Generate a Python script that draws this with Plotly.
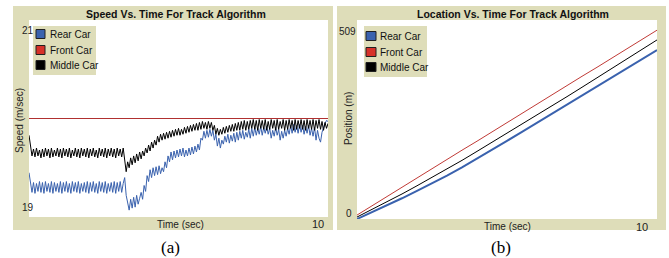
import plotly.graph_objects as go

# ---------------- data ----------------
series_names = ["Rear Car", "Front Car", "Middle Car"]

speed_dt = 0.05  # seconds between samples
rear_speed = [
    19.45, 19.33, 19.25, 19.35, 19.24, 19.34, 19.26, 19.36, 19.25, 19.35,
    19.24, 19.36, 19.26, 19.34, 19.25, 19.36, 19.24, 19.35, 19.26, 19.34,
    19.25, 19.36, 19.24, 19.35, 19.26, 19.36, 19.25, 19.34, 19.24, 19.36,
    19.26, 19.35, 19.25, 19.36, 19.24, 19.34, 19.26, 19.35, 19.25, 19.36,
    19.24, 19.35, 19.26, 19.36, 19.25, 19.34, 19.24, 19.36, 19.26, 19.35,
    19.25, 19.36, 19.24, 19.34, 19.26, 19.35, 19.25, 19.36, 19.24, 19.35,
    19.26, 19.36, 19.25, 19.34, 19.40, 19.22, 19.12, 19.07, 19.18, 19.09,
    19.20, 19.10, 19.22, 19.13, 19.19, 19.25, 19.18, 19.32, 19.26, 19.42,
    19.36, 19.48, 19.40, 19.50, 19.42, 19.51, 19.43, 19.52, 19.44, 19.50,
    19.46, 19.56, 19.50, 19.62, 19.56, 19.66, 19.58, 19.67, 19.60, 19.68,
    19.61, 19.69, 19.62, 19.70, 19.61, 19.68, 19.62, 19.70, 19.63, 19.71,
    19.64, 19.72, 19.66, 19.74, 19.68, 19.80, 19.78, 19.87, 19.80, 19.88,
    19.81, 19.89, 19.82, 19.88, 19.78, 19.84, 19.72, 19.80, 19.70, 19.78,
    19.74, 19.82, 19.76, 19.84, 19.75, 19.83, 19.77, 19.85, 19.76, 19.86,
    19.78, 19.87, 19.80, 19.88, 19.79, 19.86, 19.81, 19.89, 19.80, 19.90,
    19.82, 19.91, 19.83, 19.90, 19.84, 19.92, 19.83, 19.91, 19.85, 19.92,
    19.84, 19.90, 19.80, 19.88, 19.82, 19.91, 19.83, 19.89, 19.78, 19.87,
    19.80, 19.88, 19.82, 19.90, 19.84, 19.93, 19.85, 19.94, 19.86, 19.93,
    19.85, 19.94, 19.86, 19.93, 19.84, 19.92, 19.85, 19.93, 19.83, 19.90,
    19.82, 19.91, 19.78, 19.88, 19.80, 19.76, 19.86, 19.92, 19.95, 19.98,
    19.97,
]
middle_speed = [
    19.83, 19.70, 19.62, 19.69, 19.61, 19.70, 19.62, 19.68, 19.60, 19.69,
    19.61, 19.70, 19.62, 19.69, 19.60, 19.70, 19.61, 19.68, 19.62, 19.70,
    19.61, 19.69, 19.60, 19.70, 19.62, 19.69, 19.61, 19.70, 19.60, 19.68,
    19.62, 19.70, 19.61, 19.69, 19.60, 19.70, 19.62, 19.69, 19.61, 19.70,
    19.60, 19.69, 19.62, 19.70, 19.61, 19.68, 19.60, 19.70, 19.62, 19.69,
    19.61, 19.70, 19.60, 19.69, 19.62, 19.70, 19.61, 19.69, 19.60, 19.70,
    19.62, 19.69, 19.61, 19.70, 19.55, 19.46, 19.56, 19.50, 19.60, 19.53,
    19.62, 19.55, 19.64, 19.57, 19.66, 19.59, 19.67, 19.62, 19.70, 19.65,
    19.73, 19.67, 19.76, 19.70, 19.78, 19.73, 19.82, 19.76, 19.84, 19.78,
    19.85, 19.79, 19.86, 19.80, 19.87, 19.81, 19.88, 19.82, 19.89, 19.83,
    19.90, 19.83, 19.89, 19.84, 19.91, 19.85, 19.92, 19.86, 19.93, 19.87,
    19.94, 19.88, 19.95, 19.88, 19.96, 19.89, 19.97, 19.90, 19.96, 19.89,
    19.97, 19.90, 19.96, 19.88, 19.93, 19.84, 19.90, 19.83, 19.89, 19.84,
    19.91, 19.85, 19.92, 19.86, 19.93, 19.87, 19.94, 19.87, 19.95, 19.88,
    19.96, 19.88, 19.97, 19.89, 19.98, 19.88, 19.97, 19.89, 19.98, 19.90,
    19.99, 19.89, 19.98, 19.88, 19.99, 19.90, 19.98, 19.89, 19.99, 19.88,
    19.97, 19.89, 19.99, 19.90, 19.98, 19.88, 19.99, 19.89, 19.97, 19.90,
    19.99, 19.88, 19.98, 19.89, 19.99, 19.90, 19.98, 19.88, 19.99, 19.89,
    19.98, 19.90, 19.99, 19.89, 19.98, 19.88, 19.99, 19.90, 19.98, 19.89,
    19.99, 19.88, 19.98, 19.90, 19.99, 19.89, 19.97, 19.88, 19.96, 19.90,
    19.95,
]
front_speed_time = [0, 10]
front_speed = [20.0, 20.0]

pos_time = [0, 0.5, 1, 1.5, 2, 2.5, 3, 3.5, 4, 4.5, 5,
            5.5, 6, 6.5, 7, 7.5, 8, 8.5, 9, 9.5, 10]
rear_pos = [0, 17, 35, 53, 72, 91, 111, 132, 154, 177, 200,
            223, 246, 269, 292, 315, 338, 362, 385, 408, 432]
front_pos = [10, 34, 57, 81, 105, 128, 152, 176, 199, 223, 247,
             270, 294, 317, 341, 365, 388, 412, 436, 459, 483]
middle_pos = [5, 24, 44, 64, 85, 106, 128, 150, 173, 196, 219,
              242, 265, 289, 313, 337, 361, 385, 409, 433, 458]

speed_range = [19, 21]
pos_range = [0, 509]
time_range = [0, 10]
speed_tick_labels = ["19", "21"]
pos_tick_labels = ["0", "509"]
time_tick_label = "10"

titles = ["Speed Vs. Time For Track Algorithm", "Location Vs. Time For Track Algorithm"]
y_titles = ["Speed (m/sec)", "Position (m)"]
x_title = "Time (sec)"
captions = ["(a)", "(b)"]

# ---------------- layout helpers ----------------
W, H = 669, 258
BEIGE = "#DEDDB9"
FONT = "Liberation Sans"
BLUE = "#3A62AE"


def px(x):
    return x / W


def py(y):
    return 1 - y / H


fig = go.Figure()

# Speed panel
fig.add_trace(go.Scatter(x=front_speed_time, y=front_speed, mode="lines",
                         line=dict(color="#B03030", width=1), xaxis="x", yaxis="y",
                         showlegend=False, name=series_names[1]))
fig.add_trace(go.Scatter(y=rear_speed, x0=0, dx=speed_dt, mode="lines",
                         line=dict(color=BLUE, width=1), xaxis="x", yaxis="y",
                         showlegend=False, name=series_names[0]))
fig.add_trace(go.Scatter(y=middle_speed, x0=0, dx=speed_dt, mode="lines",
                         line=dict(color="#000000", width=1), xaxis="x", yaxis="y",
                         showlegend=False, name=series_names[2]))

# Position panel
fig.add_trace(go.Scatter(x=pos_time, y=rear_pos, mode="lines",
                         line=dict(color=BLUE, width=2), xaxis="x2", yaxis="y2",
                         showlegend=False, name=series_names[0]))
fig.add_trace(go.Scatter(x=pos_time, y=middle_pos, mode="lines",
                         line=dict(color="#000000", width=1), xaxis="x2", yaxis="y2",
                         showlegend=False, name=series_names[2]))
fig.add_trace(go.Scatter(x=pos_time, y=front_pos, mode="lines",
                         line=dict(color="#C03A36", width=1), xaxis="x2", yaxis="y2",
                         showlegend=False, name=series_names[1]))

axis_common = dict(showgrid=False, zeroline=False, showticklabels=False,
                   ticks="", showline=False, fixedrange=True)

fig.update_layout(
    width=W, height=H,
    margin=dict(l=0, r=0, t=0, b=0),
    paper_bgcolor="white",
    plot_bgcolor="white",
    showlegend=False,
    xaxis=dict(domain=[px(29), px(328)], range=time_range, anchor="y", **axis_common),
    yaxis=dict(domain=[py(217), py(20)], range=speed_range, anchor="x", **axis_common),
    xaxis2=dict(domain=[px(357), px(657)], range=time_range, anchor="y2", **axis_common),
    yaxis2=dict(domain=[py(219), py(20)], range=pos_range, anchor="x2", **axis_common),
)

shapes = []
annotations = []

# Beige panels
for (x0, x1) in [(13, 333), (337, 666)]:
    shapes.append(dict(type="rect", xref="paper", yref="paper", layer="below",
                       x0=px(x0), x1=px(x1), y0=py(230), y1=py(6),
                       fillcolor=BEIGE, line=dict(width=0)))
# White plotting areas
for ax in ["x", "x2"]:
    ya = "y" if ax == "x" else "y2"
    shapes.append(dict(type="rect", xref="%s domain" % ax, yref="%s domain" % ya, layer="below",
                       x0=0, x1=1, y0=0, y1=1, fillcolor="white", line=dict(width=0)))

# Titles
for title, cx in zip(titles, [176, 513]):
    annotations.append(dict(text="<b>%s</b>" % title, x=px(cx), y=py(14), xref="paper",
                            yref="paper", showarrow=False, xanchor="center", yanchor="middle",
                            font=dict(family=FONT, size=10.5, color="#111111")))

# Y axis titles
for yt, cx, cy in zip(y_titles, [20, 349], [121, 119]):
    annotations.append(dict(text=yt, x=px(cx), y=py(cy), xref="paper", yref="paper",
                            showarrow=False, textangle=-90, xanchor="center", yanchor="middle",
                            font=dict(family=FONT, size=10, color="#222222")))

# X axis titles
for cx, cy in [(180, 224), (507, 226)]:
    annotations.append(dict(text=x_title, x=px(cx), y=py(cy), xref="paper", yref="paper",
                            showarrow=False, xanchor="center", yanchor="middle",
                            font=dict(family=FONT, size=10, color="#222222")))

# Tick labels (at the axis extremes)
annotations.append(dict(text=speed_tick_labels[1], x=px(20), xref="paper", y=speed_range[1],
                        yref="y", yanchor="top", yshift=-3, showarrow=False,
                        font=dict(family=FONT, size=10, color="#222222")))
annotations.append(dict(text=speed_tick_labels[0], x=px(20), xref="paper", y=speed_range[0],
                        yref="y", yanchor="bottom", yshift=2, showarrow=False,
                        font=dict(family=FONT, size=10, color="#222222")))
annotations.append(dict(text=pos_tick_labels[1], x=px(347), xref="paper", y=pos_range[1],
                        yref="y2", yanchor="top", yshift=-4, showarrow=False,
                        font=dict(family=FONT, size=10, color="#222222")))
annotations.append(dict(text=pos_tick_labels[0], x=px(349), xref="paper", y=pos_range[0],
                        yref="y2", yanchor="bottom", yshift=-2, showarrow=False,
                        font=dict(family=FONT, size=10, color="#222222")))
annotations.append(dict(text=time_tick_label, x=time_range[1], xref="x", xanchor="right",
                        xshift=-2, y=py(224), yref="paper", yanchor="middle", showarrow=False,
                        font=dict(family=FONT, size=11, color="#222222")))
annotations.append(dict(text=time_tick_label, x=time_range[1], xref="x2", xanchor="right",
                        xshift=-7, y=py(227), yref="paper", yanchor="middle", showarrow=False,
                        font=dict(family=FONT, size=11, color="#222222")))

# Manual legends (NetLogo style)
legend_boxes = [dict(x0=33, x1=96, y0=26, y1=75, sx0=36, sx1=45, tx=48, rows=[34, 50, 65]),
                dict(x0=364, x1=427, y0=26, y1=77, sx0=366, sx1=376, tx=378, rows=[36, 52, 67])]
swatch_colors = [BLUE, "#D7322A", "#000000"]
for lb in legend_boxes:
    shapes.append(dict(type="rect", xref="paper", yref="paper",
                       x0=px(lb["x0"]), x1=px(lb["x1"]), y0=py(lb["y1"]), y1=py(lb["y0"]),
                       fillcolor=BEIGE, line=dict(width=0)))
    for name, col, ry in zip(series_names, swatch_colors, lb["rows"]):
        shapes.append(dict(type="rect", xref="paper", yref="paper",
                           x0=px(lb["sx0"]), x1=px(lb["sx1"]), y0=py(ry + 4.5), y1=py(ry - 4.5),
                           fillcolor=col, line=dict(width=1, color="#202020")))
        annotations.append(dict(text=name, x=px(lb["tx"]), y=py(ry), xref="paper", yref="paper",
                                xanchor="left", yanchor="middle", showarrow=False,
                                font=dict(family=FONT, size=10, color="#111111")))

# Captions
for cap, cx in zip(captions, [170, 501]):
    annotations.append(dict(text=cap, x=px(cx), y=py(247), xref="paper", yref="paper",
                            showarrow=False, xanchor="center", yanchor="middle",
                            font=dict(family="Liberation Serif", size=17, color="#000000")))

fig.update_layout(shapes=shapes, annotations=annotations)

fig.write_html("out.html", config={"displayModeBar": False},
               post_script="document.body.style.margin='0';")
